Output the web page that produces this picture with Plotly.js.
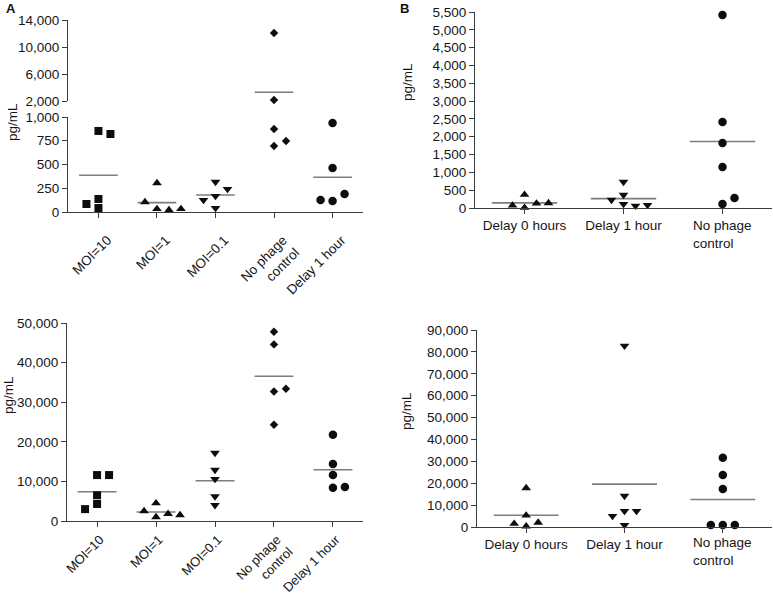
<!DOCTYPE html>
<html>
<head>
<meta charset="utf-8">
<script src="https://cdn.plot.ly/plotly-3.0.1.min.js"></script>
<style>
body { margin: 0; background: #fff; }
#chart { width: 773px; height: 594px; }
</style>
</head>
<body>
<div id="chart"></div>
<script>
// panel A / C categories (top-left, bottom-left)
var catsA = ['MOI=10', 'MOI=1', 'MOI=0.1', 'No phage<br>control', 'Delay 1 hour'];
// panel B / D categories (top-right, bottom-right)
var catsB = ['Delay 0 hours', 'Delay 1 hour', 'No phage<br>control'];

// A: pg/mL, broken axis
var moi10A   = [853, 821, 137, 42, 84];
var moi1A    = [305, 32, 21, 105, 32];
var moi01A   = [316, 168, 42, 242, 126];
var noPhageA = [12070, 2150, 874, 695, 747];
var delay1A  = [937, 463, 116, 189, 126];

// B
var delay0B  = [373, 10, 128, 73, 140];
var delay1B  = [730, 112, 365, 62, 225, 84];
var noPhageB = [5416, 2413, 1824, 1150, 112, 281];

// C
var moi10C   = [11600, 11600, 6500, 4300, 3000];
var moi1C    = [4500, 1000, 1800, 2500, 1500];
var moi01C   = [17200, 10600, 12900, 6200, 4000];
var noPhageC = [47800, 44600, 32700, 33400, 24300];
var delay1C  = [21800, 14400, 8400, 11600, 8600];

// D
var delay0D  = [17800, 300, 2000, 1500, 5300];
var delay1D  = [82800, 14200, 7300, 900, 7300, 5000];
var noPhageD = [31600, 23800, 17400, 900, 900, 900];

var W = 773, H = 594;
var AX = '#3c3c3c';
var MEAN = '#7d7d7d';
var INK = '#0d0d0d';
var TXT = '#161616';
var FS = 13.5;

function xax(l, r, anchor, labels, angle, range, shift, standoff, fs) {
    return {
        domain: [l / W, r / W], anchor: anchor, range: range,
        tickvals: labels.map(function (_, i) { return i; }),
        ticktext: labels, tickangle: angle,
        ticklabelshift: shift, ticklabelstandoff: standoff,
        showline: true, linecolor: AX, linewidth: 1,
        ticks: 'outside', ticklen: 5, tickcolor: AX,
        showgrid: false, zeroline: false, fixedrange: true,
        tickfont: {size: fs || FS, color: TXT}
    };
}

function yax(top, bottom, anchor, range, tickvals) {
    return {
        domain: [1 - bottom / H, 1 - top / H], anchor: anchor, range: range,
        tickvals: tickvals, tickformat: ',d',
        showline: true, linecolor: AX, linewidth: 1,
        ticks: 'outside', ticklen: 5, tickcolor: AX,
        showgrid: false, zeroline: false, fixedrange: true,
        tickfont: {size: FS, color: TXT}
    };
}

// B and D: the two-line label is drawn as a left aligned annotation
function plainTicks(labels) {
    return labels.map(function (t) { return t.indexOf('<br>') >= 0 ? '' : t; });
}

var layout = {
    width: W, height: H,
    margin: {l: 0, r: 0, t: 0, b: 0},
    showlegend: false,
    paper_bgcolor: '#fff', plot_bgcolor: 'rgba(0,0,0,0)',
    font: {family: 'Liberation Sans, Arial, sans-serif', size: FS, color: TXT},
    xaxis:  xax(68, 363, 'y', catsA, -45, [-0.52, 4.52], 9, 9),
    yaxis:  yax(117, 212, 'x', [0, 1000], [0, 250, 500, 750, 1000]),
    yaxis2: yax(20, 101, 'x', [2000, 14000], [2000, 6000, 10000, 14000]),
    xaxis2: xax(475, 772, 'y3', plainTicks(catsB), 0, [-0.5, 2.5], 0, 0),
    yaxis3: yax(12, 208, 'x2', [0, 5500],
        [0, 500, 1000, 1500, 2000, 2500, 3000, 3500, 4000, 4500, 5000, 5500]),
    xaxis3: xax(67, 363, 'y4', catsA, -45, [-0.51, 4.51], 3, 0, 13),
    yaxis4: yax(323, 521, 'x3', [0, 50000], [0, 10000, 20000, 30000, 40000, 50000]),
    xaxis4: xax(477, 772, 'y5', plainTicks(catsB), 0, [-0.5, 2.5], 0, 0),
    yaxis5: yax(330, 527, 'x4', [0, 90000],
        [0, 10000, 20000, 30000, 40000, 50000, 60000, 70000, 80000, 90000]),
    annotations: []
};

// value -> pixel row, used to spread overlapping points sideways
function pxOf(axName, v) {
    var a = layout[axName];
    var f = (v - a.range[0]) / (a.range[1] - a.range[0]);
    return H * (1 - (a.domain[0] + f * (a.domain[1] - a.domain[0])));
}

function swarm(vals, toPx, slot) {
    var placed = [], offs = [];
    vals.forEach(function (v) {
        var py = toPx(v), s = 0;
        function free(k) {
            return !placed.some(function (p) { return p.s === k && Math.abs(p.py - py) < 8.5; });
        }
        if (!free(0)) {
            var left = placed.filter(function (p) { return p.s < 0; }).length;
            var right = placed.filter(function (p) { return p.s > 0; }).length;
            for (var n = 1; n < 6; n++) {
                var order = right <= left ? [n, -n] : [-n, n];
                if (free(order[0])) { s = order[0]; break; }
                if (free(order[1])) { s = order[1]; break; }
            }
        }
        placed.push({s: s, py: py});
        offs.push(s * slot);
    });
    return offs;
}

var SYMS = {
    square: 8, 'triangle-up': 8.5, 'triangle-down': 8.5, diamond: 6.5, circle: 8.5
};

var traces = [];
var marks = [];

function addPanel(xName, series, syms, yFor) {
    var xa = layout[xName === 'x' ? 'xaxis' : 'xaxis' + xName.slice(1)];
    var unitPx = (xa.domain[1] - xa.domain[0]) * W / (xa.range[1] - xa.range[0]);
    var slot = 12 / unitPx;
    series.forEach(function (vals, ci) {
        var toPx = function (v) { return pxOf(yFor(v).axis, v); };
        var offs = swarm(vals, toPx, slot);
        var groups = {};
        vals.forEach(function (v, i) {
            var ya = yFor(v).ref;
            if (!groups[ya]) groups[ya] = {x: [], y: []};
            groups[ya].x.push(ci + offs[i]);
            groups[ya].y.push(v);
        });
        var m = vals.reduce(function (a, b) { return a + b; }, 0) / vals.length;
        traces.push({
            type: 'scatter', mode: 'lines', xaxis: xName, yaxis: yFor(m).ref,
            x: [ci - 0.33, ci + 0.33], y: [m, m],
            line: {color: MEAN, width: 1.6}, hoverinfo: 'skip', cliponaxis: false
        });
        Object.keys(groups).forEach(function (ya) {
            marks.push({
                type: 'scatter', mode: 'markers', xaxis: xName, yaxis: ya,
                x: groups[ya].x, y: groups[ya].y, cliponaxis: false,
                marker: {symbol: syms[ci], size: SYMS[syms[ci]], color: INK, line: {width: 0}}
            });
        });
    });
}

var symsA = ['square', 'triangle-up', 'triangle-down', 'diamond', 'circle'];
var symsB = ['triangle-up', 'triangle-down', 'circle'];

addPanel('x', [moi10A, moi1A, moi01A, noPhageA, delay1A], symsA, function (v) {
    return v <= 1000 ? {axis: 'yaxis', ref: 'y'} : {axis: 'yaxis2', ref: 'y2'};
});
addPanel('x2', [delay0B, delay1B, noPhageB], symsB, function () {
    return {axis: 'yaxis3', ref: 'y3'};
});
addPanel('x3', [moi10C, moi1C, moi01C, noPhageC, delay1C], symsA, function () {
    return {axis: 'yaxis4', ref: 'y4'};
});
addPanel('x4', [delay0D, delay1D, noPhageD], symsB, function () {
    return {axis: 'yaxis5', ref: 'y5'};
});

// y titles and panel letters
function note(text, xpx, ypx, extra) {
    var a = {
        text: text, xref: 'paper', yref: 'paper', x: xpx / W, y: 1 - ypx / H,
        xanchor: 'center', yanchor: 'middle',
        showarrow: false, font: {size: FS, color: TXT}
    };
    for (var k in extra) a[k] = extra[k];
    layout.annotations.push(a);
}
note('pg/mL', 12, 122, {textangle: -90});
note('pg/mL', 407, 82, {textangle: -90});
note('pg/mL', 8, 395, {textangle: -90});
note('pg/mL', 406, 411, {textangle: -90});
note('<b>A</b>', 11, 9, {font: {size: 13, color: '#111'}});
note('<b>B</b>', 404, 8, {font: {size: 13, color: '#111'}});

// two-line category labels on B and D, left aligned like the original
[['x2', 216], ['x4', 533]].forEach(function (p) {
    catsB.forEach(function (t, i) {
        if (t.indexOf('<br>') < 0) return;
        layout.annotations.push({
            text: t, xref: p[0], yref: 'paper', x: i, y: 1 - p[1] / H,
            xanchor: 'center', yanchor: 'top', align: 'left', showarrow: false,
            font: {size: FS, color: TXT}
        });
    });
});

Plotly.newPlot('chart', traces.concat(marks), layout, {staticPlot: true});
</script>
</body>
</html>
